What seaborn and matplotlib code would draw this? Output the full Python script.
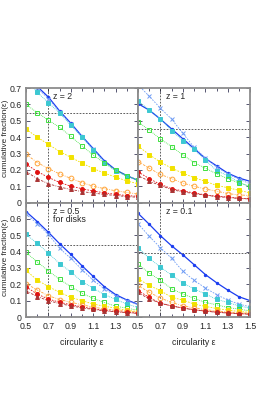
import numpy as np
import pandas as pd
import matplotlib
matplotlib.use("Agg")
import matplotlib.pyplot as plt
import seaborn as sns

# circularity grid
eps = [0.5, 0.6, 0.7, 0.8, 0.9, 1.0, 1.1, 1.2, 1.3, 1.4, 1.5]

# series order: blue, light blue, cyan, green, yellow, orange, red, brown
frac_z2 = [
    [0.79, 0.71, 0.645, 0.56, 0.485, 0.405, 0.33, 0.255, 0.2, 0.165, 0.135],
    [0.78, 0.70, 0.635, 0.555, 0.48, 0.40, 0.325, 0.25, 0.195, 0.162, 0.133],
    [0.75, 0.675, 0.61, 0.548, 0.472, 0.40, 0.322, 0.245, 0.192, 0.16, 0.14],
    [0.60, 0.55, 0.504, 0.46, 0.405, 0.346, 0.291, 0.241, 0.20, 0.164, 0.138],
    [0.45, 0.40, 0.356, 0.312, 0.277, 0.241, 0.208, 0.18, 0.156, 0.132, 0.115],
    [0.296, 0.245, 0.208, 0.175, 0.148, 0.122, 0.10, 0.085, 0.072, 0.062, 0.052],
    [0.235, 0.19, 0.154, 0.123, 0.10, 0.085, 0.07, 0.06, 0.05, 0.043, 0.038],
    [0.19, 0.146, 0.115, 0.095, 0.08, 0.067, 0.058, 0.05, 0.043, 0.037, 0.032],
]
frac_z1 = [
    [0.605, 0.565, 0.51, 0.45, 0.39, 0.33, 0.27, 0.225, 0.18, 0.15, 0.13],
    [0.72, 0.65, 0.577, 0.51, 0.423, 0.338, 0.273, 0.217, 0.175, 0.143, 0.115],
    [0.62, 0.567, 0.512, 0.44, 0.378, 0.325, 0.26, 0.196, 0.164, 0.125, 0.095],
    [0.494, 0.443, 0.389, 0.342, 0.291, 0.245, 0.21, 0.176, 0.146, 0.12, 0.10],
    [0.346, 0.293, 0.247, 0.21, 0.18, 0.152, 0.13, 0.105, 0.091, 0.075, 0.059],
    [0.251, 0.21, 0.172, 0.146, 0.119, 0.10, 0.083, 0.07, 0.055, 0.047, 0.043],
    [0.188, 0.146, 0.111, 0.085, 0.071, 0.059, 0.047, 0.038, 0.034, 0.026, 0.024],
    [0.166, 0.13, 0.105, 0.079, 0.065, 0.055, 0.045, 0.037, 0.031, 0.025, 0.022],
]
frac_z05 = [
    [0.645, 0.584, 0.518, 0.448, 0.383, 0.313, 0.248, 0.185, 0.137, 0.104, 0.078],
    [0.63, 0.571, 0.505, 0.42, 0.358, 0.29, 0.224, 0.172, 0.13, 0.10, 0.075],
    [0.505, 0.451, 0.39, 0.327, 0.275, 0.217, 0.176, 0.137, 0.108, 0.079, 0.058],
    [0.395, 0.337, 0.282, 0.23, 0.186, 0.145, 0.114, 0.089, 0.066, 0.054, 0.041],
    [0.285, 0.226, 0.186, 0.151, 0.12, 0.10, 0.079, 0.066, 0.054, 0.041, 0.033],
    [0.205, 0.165, 0.13, 0.107, 0.09, 0.075, 0.06, 0.05, 0.042, 0.035, 0.03],
    [0.185, 0.14, 0.11, 0.09, 0.075, 0.062, 0.05, 0.04, 0.034, 0.028, 0.024],
    [0.16, 0.125, 0.10, 0.082, 0.068, 0.056, 0.046, 0.038, 0.032, 0.027, 0.022],
]
frac_z01 = [
    [0.634, 0.567, 0.497, 0.435, 0.38, 0.32, 0.26, 0.21, 0.165, 0.124, 0.10],
    [0.571, 0.493, 0.424, 0.358, 0.28, 0.224, 0.178, 0.137, 0.104, 0.079, 0.062],
    [0.424, 0.358, 0.306, 0.255, 0.207, 0.172, 0.141, 0.108, 0.089, 0.068, 0.054],
    [0.323, 0.269, 0.224, 0.172, 0.141, 0.114, 0.089, 0.075, 0.058, 0.048, 0.037],
    [0.234, 0.193, 0.161, 0.12, 0.104, 0.079, 0.065, 0.052, 0.042, 0.034, 0.028],
    [0.193, 0.151, 0.116, 0.089, 0.068, 0.056, 0.045, 0.037, 0.031, 0.026, 0.022],
    [0.161, 0.12, 0.083, 0.068, 0.055, 0.045, 0.036, 0.03, 0.025, 0.021, 0.018],
    [0.15, 0.11, 0.085, 0.068, 0.054, 0.044, 0.036, 0.029, 0.024, 0.02, 0.017],
]

panel_labels = ["z = 2", "z = 1", "z = 0.5\nfor disks", "z = 0.1"]
ref_levels = [0.55, 0.45, 0.44, 0.39]
ref_eps = 0.7

colors = ["#1a3cf0", "#6f9cf5", "#3cc8d2", "#3ee03e", "#f2e200", "#ffa53a", "#e01010", "#a83232"]
markers = [".", "x", "s", "s", "s", "o", "o", "^"]
filled = [True, True, True, False, True, False, True, True]
msizes = [3.4, 3.2, 2.4, 3.4, 2.6, 3.4, 2.8, 2.8]
lstyles = ["-", (0, (2, 1.5)), (0, (1, 1.2)), (0, (1, 1.2)), (0, (2, 1.5)),
           (0, (3, 1.5, 1, 1.5)), (0, (2, 1.5)), (0, (3, 1.5, 1, 1.5))]
fs = 6.3


def plot_panel(ax, fracs, label, ref_y):
    """Draws the eight cumulative curves of one redshift panel"""
    for i, vals in enumerate(fracs):
        df = pd.DataFrame({"eps": eps, "frac": vals})
        sns.lineplot(data=df, x="eps", y="frac", ax=ax, color=colors[i],
                     marker=markers[i], markersize=msizes[i],
                     markeredgecolor=colors[i],
                     markerfacecolor=colors[i] if filled[i] else "none",
                     markeredgewidth=0.7, linestyle=lstyles[i],
                     linewidth=0.9 if i == 0 else 0.6, legend=False,
                     errorbar=None)
    ax.axvline(ref_eps, color="#202020", lw=0.5, ls=(0, (2.5, 2)), zorder=1)
    ax.axhline(ref_y, color="#202020", lw=0.5, ls=(0, (2.5, 2)), zorder=1)
    ax.text(0.745, 0.675, label, fontsize=fs, ha="left", va="top",
            linespacing=0.95)
    ax.set_xlim(0.5, 1.5)
    ax.set_ylim(0, 0.7)
    ax.set_xlabel("")
    ax.set_ylabel("")
    for spine in ax.spines.values():
        spine.set_color("#8c8c8c")
        spine.set_linewidth(1.3)
    ax.set_xticks([0.5, 0.7, 0.9, 1.1, 1.3, 1.5])
    ax.set_xticks([0.6, 0.8, 1.0, 1.2, 1.4], minor=True)
    ax.set_yticks([0, 0.1, 0.2, 0.3, 0.4, 0.5, 0.6, 0.7])
    ax.tick_params(which="both", direction="in", top=True, right=True,
                   color="#3a3a5a", width=0.6, labelsize=fs)
    ax.tick_params(axis="x", pad=3.5)
    ax.tick_params(axis="y", pad=3)
    ax.tick_params(which="major", length=3)
    ax.tick_params(which="minor", length=2)


if __name__ == "__main__":
    sns.set_style("ticks")
    plt.rcParams["font.family"] = ["Liberation Sans", "DejaVu Sans"]

    fig, axes = plt.subplots(2, 2, figsize=(2.77, 4.08), dpi=100)
    fig.subplots_adjust(left=0.094, right=0.903, top=0.784, bottom=0.223,
                        wspace=0, hspace=0)
    all_fracs = [frac_z2, frac_z1, frac_z05, frac_z01]
    for ax, fracs, label, ref_y in zip(axes.flat, all_fracs, panel_labels, ref_levels):
        plot_panel(ax, fracs, label, ref_y)

    # only outer tick labels, drop the ones that would collide at the joins
    for ax in axes[0]:
        ax.set_xticklabels([])
    axes[0, 1].set_yticklabels([])
    axes[1, 1].set_yticklabels([])
    axes[0, 0].set_yticklabels(["0", "0.1", "0.2", "0.3", "0.4", "0.5", "0.6", "0.7"])
    axes[1, 0].set_yticklabels(["0", "0.1", "0.2", "0.3", "0.4", "0.5", "0.6", ""])
    axes[1, 0].set_xticklabels(["0.5", "0.7", "0.9", "1.1", "1.3", ""])
    axes[1, 1].set_xticklabels(["0.5", "0.7", "0.9", "1.1", "1.3", "1.5"])

    for y in [0.66, 0.37]:
        fig.text(0.019, y, "cumulative fraction(ε)", rotation=90, ha="center",
                 va="center", fontsize=5.9)
    for x in [0.296, 0.70]:
        fig.text(x, 0.16, "circularity ε", ha="center", va="center", fontsize=fs)

    fig.savefig("out.png", dpi=100)
